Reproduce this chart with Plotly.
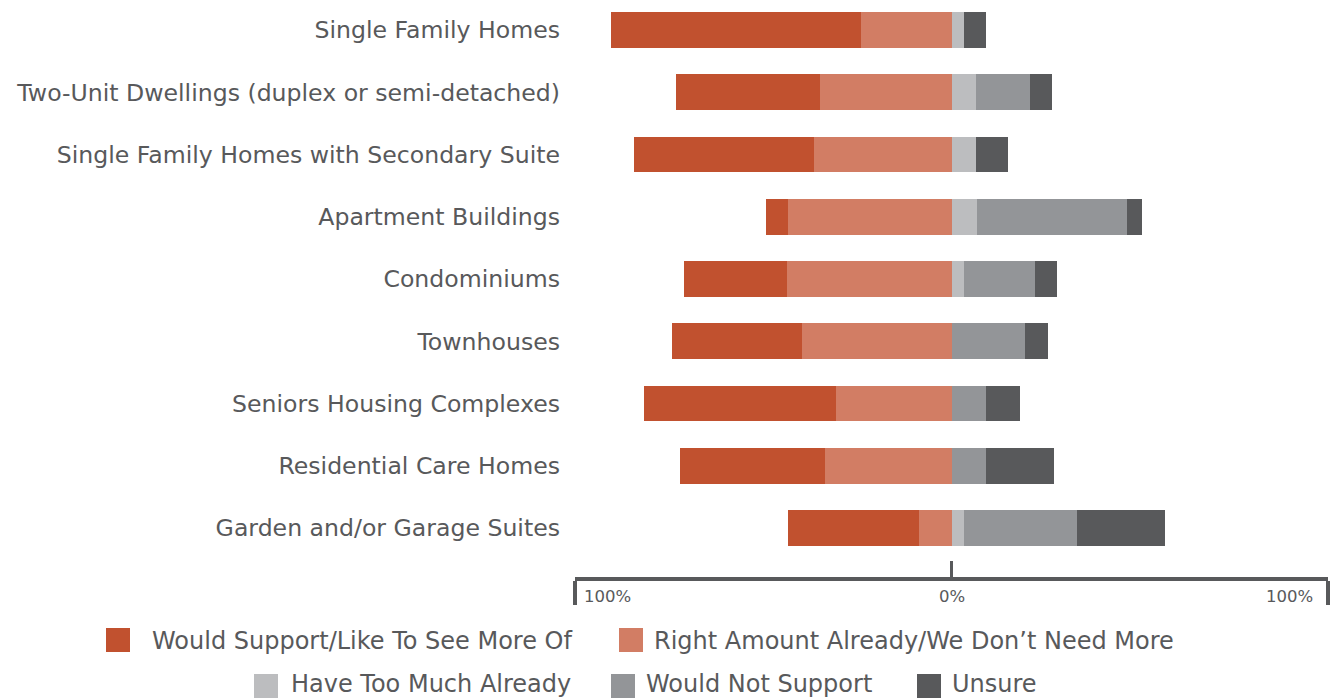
import plotly.graph_objects as go

categories = [
    "Single Family Homes",
    "Two-Unit Dwellings (duplex or semi-detached)",
    "Single Family Homes with Secondary Suite",
    "Apartment Buildings",
    "Condominiums",
    "Townhouses",
    "Seniors Housing Complexes",
    "Residential Care Homes",
    "Garden and/or Garage Suites",
]

series_names = [
    "Would Support/Like To See More Of",
    "Right Amount Already/We Don\u2019t Need More",
    "Have Too Much Already",
    "Would Not Support",
    "Unsure",
]

would_support = [66.4, 38.2, 47.8, 5.8, 27.4, 34.5, 51.1, 38.6, 34.8]
right_amount = [24.0, 34.9, 36.5, 43.4, 43.7, 39.7, 30.6, 33.5, 8.6]
too_much = [3.3, 6.5, 6.5, 6.8, 3.3, 0.0, 0.0, 0.0, 3.4]
would_not = [0.0, 14.3, 0.0, 39.8, 18.9, 19.5, 9.1, 9.1, 29.9]
unsure = [5.8, 5.8, 8.5, 4.0, 5.8, 6.1, 9.0, 18.2, 23.3]

axis_labels = ["100%", "0%", "100%"]

colors = ["#c1512f", "#d27d64", "#bcbdbf", "#939598", "#58595b"]
text_color = "#58595b"
font_family = "DejaVu Sans, Noto Sans, sans-serif"

W, H = 1340, 698
ML, MR, MT, MB = 575, 12, 0, 121
PW, PH = W - ML - MR, H - MT - MB

fig = go.Figure()
bar_w = 0.578

# Left side (negative): nearest zero first
fig.add_trace(go.Bar(y=categories, x=[-v for v in right_amount], orientation="h",
                     marker=dict(color=colors[1], line=dict(width=0)), width=bar_w,
                     name=series_names[1], showlegend=False))
fig.add_trace(go.Bar(y=categories, x=[-v for v in would_support], orientation="h",
                     marker=dict(color=colors[0], line=dict(width=0)), width=bar_w,
                     name=series_names[0], showlegend=False))
# Right side
for vals, c, n in [(too_much, colors[2], series_names[2]),
                   (would_not, colors[3], series_names[3]),
                   (unsure, colors[4], series_names[4])]:
    fig.add_trace(go.Bar(y=categories, x=vals, orientation="h",
                         marker=dict(color=c, line=dict(width=0)), width=bar_w,
                         name=n, showlegend=False))

def px_x(p):
    return (p - ML) / PW

def px_y(p):
    return (MT + PH - p) / PH

shapes = []
annotations = []

# Manual legend (two centred rows)
legend_items = [
    (0, 106, 151, 640, 641),
    (1, 619, 653, 640, 641),
    (2, 254, 290, 686, 684),
    (3, 611, 645, 686, 684),
    (4, 917, 951, 686, 684),
]
for idx, sq_x, tx, cy, ty in legend_items:
    shapes.append(dict(type="rect", xref="paper", yref="paper",
                       x0=px_x(sq_x), x1=px_x(sq_x + 24),
                       y0=px_y(cy - 12), y1=px_y(cy + 12),
                       fillcolor=colors[idx], line=dict(width=0)))
    annotations.append(dict(xref="paper", yref="paper", x=px_x(tx), y=px_y(ty),
                            xanchor="left", yanchor="middle", showarrow=False,
                            borderpad=0,
                            text=series_names[idx],
                            font=dict(size=24, color=text_color, family=font_family)))

# Axis labels inside the bracket
annotations.append(dict(xref="x", yref="paper", x=-100, y=px_y(596), xanchor="left",
                        yanchor="middle", xshift=7, showarrow=False, text=axis_labels[0],
                        font=dict(size=16.5, color=text_color, family=font_family)))
annotations.append(dict(xref="x", yref="paper", x=0, y=px_y(596), xanchor="center",
                        yanchor="middle", showarrow=False, text=axis_labels[1],
                        font=dict(size=16.5, color=text_color, family=font_family)))
annotations.append(dict(xref="x", yref="paper", x=100, y=px_y(596), xanchor="right",
                        yanchor="middle", xshift=-13, showarrow=False, text=axis_labels[2],
                        font=dict(size=16.5, color=text_color, family=font_family)))

unit = 62.25
top_val = -30 / unit
bottom_val = (PH - 30) / unit

fig.update_layout(
    width=W, height=H,
    margin=dict(l=ML, r=MR, t=MT, b=MB, pad=0),
    barmode="relative",
    bargap=0,
    plot_bgcolor="white", paper_bgcolor="white",
    font=dict(family=font_family, color=text_color),
    shapes=shapes,
    annotations=annotations,
    showlegend=False,
    xaxis=dict(range=[-100, 100], showgrid=False, zeroline=False,
               showline=True, linewidth=4, linecolor=text_color,
               tickmode="array", tickvals=[-100, 100], ticks="outside",
               ticklen=24, tickwidth=4, tickcolor=text_color,
               showticklabels=False,
               minor=dict(tickmode="array", tickvals=[0], ticks="inside",
                          ticklen=16, tickwidth=2.5, tickcolor=text_color)),
    yaxis=dict(type="category", categoryorder="array", categoryarray=categories,
               range=[bottom_val, top_val], showgrid=False, zeroline=False,
               showline=False, ticks="", ticklabelstandoff=14,
               tickfont=dict(size=23.6, color=text_color, family=font_family)),
)

fig.write_html("out.html", config={"displayModeBar": False})

# remove the default page margin so the figure sits at the window's top-left corner
with open("out.html", "r", encoding="utf-8") as f:
    html = f.read()
html = html.replace("<head>", "<head><style>html,body{margin:0;padding:0;overflow:hidden;}</style>", 1)
with open("out.html", "w", encoding="utf-8") as f:
    f.write(html)
